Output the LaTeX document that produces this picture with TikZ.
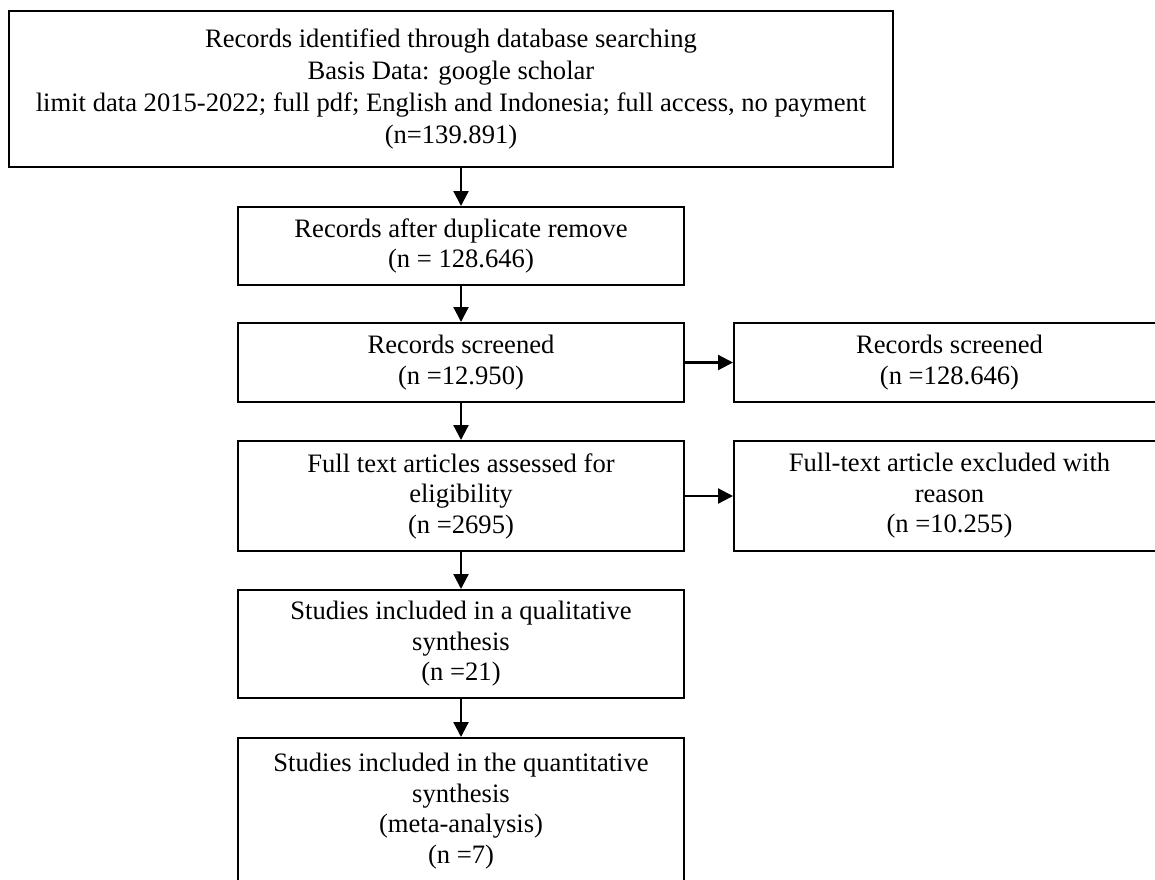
\documentclass[tikz,border=0pt]{standalone}
\usepackage{fontspec}
\setmainfont{Liberation Serif}
\usetikzlibrary{arrows.meta}
\tikzset{
  box/.style={draw, line width=2pt, align=center, inner sep=0pt, fill=white,
    font=\fontsize{26.6}{30.5}\selectfont},
  arr/.style={line width=2.2pt, -{Triangle[length=15pt,width=15pt]}}
}
\begin{document}
\begin{tikzpicture}[x=1pt,y=-1pt]
\useasboundingbox (0,0) rectangle (1155,879);
\fill[white] (0,0) rectangle (1155,879);
\clip (0,0) rectangle (1155,879);
\node[box, font=\fontsize{26.6}{32}\selectfont, minimum width=884pt, minimum height=156pt] (b1) at (451,89)
  {Records identified through database searching\\Basis Data: google scholar\\limit data 2015-2022; full pdf; English and Indonesia; full access, no payment\\(n=139.891)};
\node[box, minimum width=446pt, minimum height=78pt] (b2) at (461,246)
  {Records after duplicate remove\\(n = 128.646)};
\node[box, minimum width=446pt, minimum height=79pt] (b3) at (461,362.5)
  {Records screened\\(n =12.950)};
\node[box, minimum width=431pt, minimum height=79pt] (b4) at (949.5,362.5)
  {Records screened\\(n =128.646)};
\node[box, minimum width=446pt, minimum height=110pt] (b5) at (461,496)
  {Full text articles assessed for\\eligibility\\(n =2695)};
\node[box, minimum width=431pt, minimum height=110pt] (b6) at (949.5,496)
  {Full-text article excluded with\\reason\\(n =10.255)};
\node[box, minimum width=446pt, minimum height=108pt] (b7) at (461,644)
  {Studies included in a qualitative\\synthesis\\(n =21)};
\node[box, minimum width=446pt, minimum height=146pt] (b8) at (461,811)
  {Studies included in the quantitative\\synthesis\\(meta-analysis)\\(n =7)};
\draw[arr] (b2.north |- b1.south) -- (b2.north);
\draw[arr] (b2.south) -- (b3.north);
\draw[arr] (b3.east) -- (b4.west);
\draw[arr] (b3.south) -- (b5.north);
\draw[arr] (b5.east) -- (b6.west);
\draw[arr] (b5.south) -- (b7.north);
\draw[arr] (b7.south) -- (b8.north);
\end{tikzpicture}
\end{document}
